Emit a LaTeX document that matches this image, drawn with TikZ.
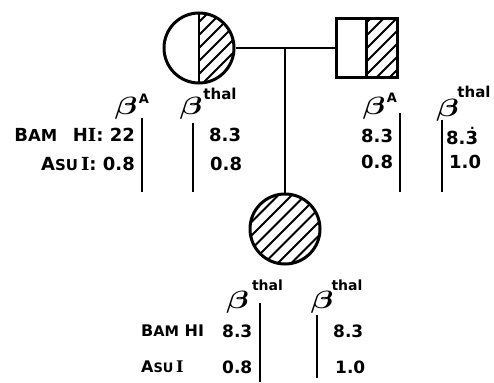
\documentclass[tikz,border=0pt]{standalone}
\usepackage{fontspec}
\usepackage{bm}
\setmainfont{DejaVu Sans}
\newfontfamily\serifI{DejaVu Serif}
\newcommand{\betasym}{\scalebox{3.3}[2.5]{$\bm{\beta}$}}
\newcommand{\sermark}{{\serifI\bfseries I}}
\begin{document}
\begin{tikzpicture}[x=1pt,y=-1pt,
  outline/.style={draw=black,line width=3pt,inner sep=0pt},
  hatchline/.style={line width=2pt},
  hatchhalf/.style={path picture={
    \begin{scope}
      \clip (path picture bounding box.north) rectangle (path picture bounding box.south east);
      \foreach \k in {-8,...,8}
        \draw[hatchline] ([xshift=\k*13pt]path picture bounding box.center) +(-60pt,-60pt) -- +(60pt,60pt);
    \end{scope}
    \draw[line width=2.5pt] (path picture bounding box.north) -- (path picture bounding box.south);
  }},
  hatchfull/.style={path picture={
    \foreach \k in {-8,...,8}
      \draw[hatchline] ([xshift=\k*13.5pt]path picture bounding box.center) +(-60pt,-60pt) -- +(60pt,60pt);
  }},
  link/.style={line width=2.4pt},
  band/.style={line width=2.6pt},
  betanode/.style={inner sep=0pt},
  supA/.style={inner sep=0pt,font=\fontsize{13}{13}\selectfont\bfseries},
  supT/.style={inner sep=0pt,font=\fontsize{15}{15}\selectfont\bfseries},
  supTs/.style={inner sep=0pt,font=\fontsize{14}{14}\selectfont\bfseries},
  num/.style={inner sep=0pt,font=\fontsize{18}{18}\selectfont\bfseries},
  nums/.style={inner sep=0pt,font=\fontsize{17}{17}\selectfont\bfseries},
  lbl/.style={inner sep=0pt,font=\fontsize{18}{18}\selectfont\bfseries},
  lbls/.style={inner sep=0pt,font=\fontsize{16}{16}\selectfont\bfseries}
]
\useasboundingbox (0,0) rectangle (494,382);

% pedigree symbols
\node[outline,circle,minimum size=70pt,hatchhalf] (mother) at (199,48) {};
\node[outline,rectangle,minimum width=61pt,minimum height=59pt,hatchhalf] (father) at (366.5,48.5) {};
\node[outline,circle,minimum size=70pt,hatchfull] (child) at (285,229) {};

\draw[link] (mother.east) -- (mother.east -| father.west);
\coordinate (drop) at (child.north |- mother.east);
\draw[link] (drop) -- (child.north);

% left block (mother)
\node[betanode] (lb1) at (126,108) {\betasym};
\node[supA] (lb1s) at (144,99) {A};
\node[betanode] (lb2) at (191,108) {\betasym};
\node[supT] (lb2s) at (220,93.5) {thal};
\draw[band] (142,118) -- (142,192);
\draw[band] (193,123) -- (193,192);
\node[lbl,anchor=east] (lbam) at (135,135) {B{\fontsize{16.5}{16.5}\selectfont AM}\ \ \,H\sermark: 22};
\node[lbl,anchor=east] (lasu) at (135,163.5) {A{\fontsize{15}{15}\selectfont SU}\,\sermark: 0.8};
\node[num,anchor=west] (l83) at (209,135) {8.3};
\node[num,anchor=west] (l08) at (210,163.5) {0.8};

% right block (father)
\node[betanode] (rb1) at (374,108.5) {\betasym};
\node[supA] (rb1s) at (392,97.5) {A};
\node[betanode] (rb2) at (447.5,110) {\betasym};
\node[supT] (rb2s) at (474,91.5) {thal};
\draw[band] (400,113) -- (400,192);
\draw[band] (442,120) -- (442,192);
\node[num,anchor=west] (r83) at (361,136) {8.3};
\node[num,anchor=west] (r08) at (361,162) {0.8};
\node[num,anchor=west] (r83d) at (446,136) {8.3\llap{\raisebox{0.85em}{\makebox[0.62em]{\fontsize{12}{12}\selectfont .}}}};
\node[num,anchor=west] (r10) at (449,162) {1.0};

% bottom block (child)
\node[betanode] (cb1) at (237.5,302.5) {\betasym};
\node[supTs] (cb1s) at (267.5,285) {thal};
\node[betanode] (cb2) at (322,302.5) {\betasym};
\node[supTs] (cb2s) at (347,285) {thal};
\draw[band] (260,303) -- (260,382);
\draw[band] (317,315) -- (317,378);
\node[lbls,anchor=west] (cbam) at (141,331) {B{\fontsize{14.5}{14.5}\selectfont AM} HI};
\node[lbls,anchor=west] (casu) at (141,367) {A{\fontsize{13}{13}\selectfont SU}\,\sermark};
\node[nums,anchor=west] (c83) at (222,331) {8.3};
\node[nums,anchor=west] (c08) at (222,367) {0.8};
\node[nums,anchor=west] (c83b) at (333,331) {8.3};
\node[nums,anchor=west] (c10) at (335,367) {1.0};
\end{tikzpicture}
\end{document}
